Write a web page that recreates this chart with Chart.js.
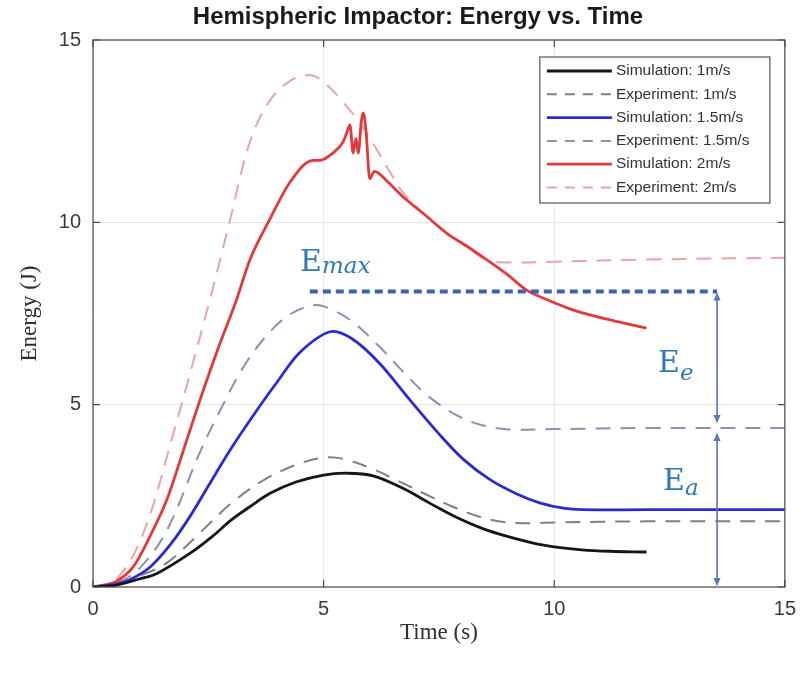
<!DOCTYPE html>
<html>
<head>
<meta charset="utf-8">
<title>Hemispheric Impactor: Energy vs. Time</title>
<script src="https://cdn.jsdelivr.net/npm/chart.js@4.4.1/dist/chart.umd.min.js"></script>
<style>
  html, body { margin: 0; padding: 0; background: #fff; }
  #wrap { width: 806px; height: 678px; }
</style>
</head>
<body>
<div id="wrap"><canvas id="energyChart" width="806" height="678"></canvas></div>
<script>
// Energy traces: time in s, energy in J
const sim1Time   = [0, 0.5, 1, 1.4, 2.1, 2.6, 3.0, 3.4, 3.84, 4.4, 5.0, 5.5, 6.07, 6.7, 7.3, 7.9, 8.45, 9.0, 9.5, 10.0, 10.6, 11.2, 11.9, 12];
const sim1Energy = [0, 0.05, 0.22, 0.38, 0.92, 1.4, 1.84, 2.2, 2.57, 2.88, 3.07, 3.12, 3.05, 2.72, 2.3, 1.9, 1.6, 1.38, 1.22, 1.1, 1.02, 0.98, 0.96, 0.96];

const exp1Time   = [0, 0.5, 1.0, 1.6, 2.38, 3.0, 3.7, 4.4, 5.0, 5.4, 6.0, 6.6, 7.2, 7.8, 8.4, 8.9, 9.5, 10, 12, 15];
const exp1Energy = [0, 0.08, 0.3, 0.66, 1.56, 2.3, 2.93, 3.35, 3.55, 3.52, 3.27, 2.92, 2.55, 2.2, 1.92, 1.78, 1.75, 1.77, 1.8, 1.8];

const sim15Time   = [0, 0.5, 0.8, 1.24, 1.7, 2.1, 2.5, 2.97, 3.5, 3.98, 4.5, 5.14, 5.6, 6.2, 6.87, 7.5, 8.03, 8.6, 9.19, 9.7, 10.2, 10.6, 12, 15];
const sim15Energy = [0, 0.08, 0.2, 0.55, 1.2, 1.93, 2.77, 3.75, 4.75, 5.6, 6.45, 7.0, 6.82, 6.15, 5.13, 4.2, 3.5, 2.95, 2.55, 2.3, 2.16, 2.12, 2.12, 2.12];

const exp15Time   = [0, 0.5, 1.0, 1.6, 2.32, 2.8, 3.26, 3.8, 4.3, 4.8, 5.1, 5.6, 6.2, 6.8, 7.3, 7.9, 8.4, 9.0, 10, 12, 15];
const exp15Energy = [0, 0.1, 0.5, 1.55, 3.7, 4.95, 6.03, 6.95, 7.5, 7.73, 7.65, 7.3, 6.6, 5.8, 5.2, 4.7, 4.45, 4.32, 4.33, 4.36, 4.36];

const sim2Time   = [0, 0.5, 0.87, 1.2, 1.6, 2.0, 2.32, 2.7, 3.11, 3.4, 3.84, 4.27, 4.77, 4.92, 5.2, 5.42, 5.5, 5.57, 5.64, 5.7, 5.75, 5.82, 5.86, 5.92, 6.0, 6.1, 6.4, 6.72, 7.2, 7.67, 8.1, 8.54, 9.0, 9.4, 9.9, 10.4, 10.9, 11.4, 12];
const sim2Energy = [0, 0.15, 0.55, 1.3, 2.39, 3.9, 5.13, 6.5, 7.87, 8.97, 10.1, 11.1, 11.7, 11.7, 11.9, 12.2, 12.45, 12.67, 11.9, 12.3, 11.9, 12.8, 13.0, 12.5, 11.2, 11.4, 11.1, 10.7, 10.2, 9.7, 9.35, 8.97, 8.55, 8.14, 7.85, 7.6, 7.42, 7.27, 7.1];

const exp2Time   = [0, 0.5, 1.09, 1.74, 2.2, 2.6, 2.97, 3.4, 3.84, 4.3, 4.7, 5.0, 5.42, 5.8, 6.15, 6.45, 6.7, 7.2, 7.67, 8.1, 8.54, 9.0, 10, 12, 15];
const exp2Energy = [0, 0.2, 1.47, 4.2, 6.3, 8.2, 10.06, 12.2, 13.35, 13.9, 14.04, 13.85, 13.3, 12.7, 12.0, 11.35, 10.85, 10.2, 9.72, 9.33, 8.97, 8.9, 8.92, 8.98, 9.03];

const seriesLabels = ['Simulation: 1m/s', 'Experiment: 1m/s', 'Simulation: 1.5m/s', 'Experiment: 1.5m/s', 'Simulation: 2m/s', 'Experiment: 2m/s'];
const seriesTimes = [sim1Time, exp1Time, sim15Time, exp15Time, sim2Time, exp2Time];
const seriesEnergies = [sim1Energy, exp1Energy, sim15Energy, exp15Energy, sim2Energy, exp2Energy];

const xTicks = [0, 5, 10, 15];
const yTicks = [0, 5, 10, 15];

// Energy balance markers
const emaxLevel = 8.1;
const emaxStart = 4.7;
const markerTime = 13.53;
const plateauLevel = 4.36;   // where E_e ends and E_a begins

// line styles per series
const seriesColors = ['#161616', '#808080', '#2b2bcc', '#8c90b4', '#e23a3c', '#e8a4a8'];
const seriesDash = [[], [15, 10], [], [15, 10], [], [15, 10]];
const seriesWidth = [2.8, 2, 2.8, 2, 2.8, 2];

const datasets = seriesLabels.map((label, i) => ({
  label,
  data: seriesTimes[i].map((t, k) => ({ x: t, y: seriesEnergies[i][k] })),
  borderColor: seriesColors[i],
  borderDash: seriesDash[i],
  borderWidth: seriesWidth[i],
  pointRadius: 0,
  fill: false,
  // the 2 m/s simulation is jagged around the peak, keep it from overshooting
  cubicInterpolationMode: i === 4 ? 'monotone' : 'default',
  tension: 0.35,
  order: seriesDash[i].length ? 2 : 1
}));

datasets.push({
  label: 'Emax',
  data: [{ x: emaxStart, y: emaxLevel }, { x: markerTime, y: emaxLevel }],
  borderColor: '#3f62b0',
  borderDash: [8, 5],
  borderWidth: 4,
  pointRadius: 0,
  fill: false,
  order: 0
});

function arrowHead(ctx, x, y, dir) {
  ctx.beginPath();
  ctx.moveTo(x, y);
  ctx.lineTo(x - 3.5, y - dir * 8);
  ctx.lineTo(x + 3.5, y - dir * 8);
  ctx.closePath();
  ctx.fill();
}

function subLabel(ctx, x, y, main, sub, subDrop) {
  ctx.font = '30px "DejaVu Serif"';
  ctx.fillText(main, x, y);
  const w = ctx.measureText(main).width;
  ctx.font = 'italic 23px "DejaVu Serif"';
  ctx.fillText(sub, x + w, y + subDrop);
}

const decorations = {
  id: 'decorations',
  afterDraw(chart) {
    const { ctx, chartArea: a, scales: { x, y } } = chart;
    ctx.save();

    // title over the axes
    ctx.fillStyle = '#1a1a1a';
    ctx.font = 'bold 24px "Liberation Sans"';
    ctx.textAlign = 'center';
    ctx.textBaseline = 'middle';
    ctx.fillText('Hemispheric Impactor: Energy vs. Time', 418, 17);

    // axes box and inner ticks
    ctx.strokeStyle = '#4a4a4a';
    ctx.lineWidth = 1.2;
    ctx.strokeRect(a.left, a.top, a.right - a.left, a.bottom - a.top);
    ctx.beginPath();
    xTicks.forEach(v => {
      const px = x.getPixelForValue(v);
      ctx.moveTo(px, a.bottom); ctx.lineTo(px, a.bottom - 7);
      ctx.moveTo(px, a.top); ctx.lineTo(px, a.top + 7);
    });
    yTicks.forEach(v => {
      const py = y.getPixelForValue(v);
      ctx.moveTo(a.left, py); ctx.lineTo(a.left + 7, py);
      ctx.moveTo(a.right, py); ctx.lineTo(a.right - 7, py);
    });
    ctx.stroke();

    // E_e and E_a arrows
    const ax = x.getPixelForValue(markerTime);
    const yTop = y.getPixelForValue(emaxLevel);
    const yMid = y.getPixelForValue(plateauLevel);
    const yBot = y.getPixelForValue(0);
    ctx.strokeStyle = '#5f74b6';
    ctx.fillStyle = '#5f74b6';
    ctx.lineWidth = 1.6;
    ctx.beginPath();
    ctx.moveTo(ax, yTop + 2); ctx.lineTo(ax, yMid - 6);
    ctx.moveTo(ax, yMid + 6); ctx.lineTo(ax, yBot - 2);
    ctx.stroke();
    arrowHead(ctx, ax, yTop + 1, -1);
    arrowHead(ctx, ax, yMid - 5, 1);
    arrowHead(ctx, ax, yMid + 5, -1);
    arrowHead(ctx, ax, yBot - 1, 1);

    // energy labels
    ctx.fillStyle = '#2f78b8';
    ctx.textAlign = 'left';
    ctx.textBaseline = 'alphabetic';
    subLabel(ctx, x.getPixelForValue(4.49), y.getPixelForValue(8.66), 'E', 'max', 2);
    subLabel(ctx, x.getPixelForValue(12.25), y.getPixelForValue(5.9), 'E', 'e', 8);
    subLabel(ctx, x.getPixelForValue(12.36), y.getPixelForValue(2.66), 'E', 'a', 5);

    // axis titles
    ctx.fillStyle = '#303030';
    ctx.font = '23px "Liberation Serif"';
    ctx.textAlign = 'center';
    ctx.textBaseline = 'middle';
    ctx.fillText('Time (s)', (a.left + a.right) / 2, 633);
    ctx.save();
    ctx.translate(30, (a.top + a.bottom) / 2);
    ctx.rotate(-Math.PI / 2);
    ctx.fillText('Energy (J)', 0, 0);
    ctx.restore();

    // legend box, top right inside the axes
    const bx = a.right - 245, by = a.top + 17, bw = 230, bh = 146;
    ctx.fillStyle = '#ffffff';
    ctx.fillRect(bx, by, bw, bh);
    ctx.strokeStyle = '#555';
    ctx.lineWidth = 1.2;
    ctx.strokeRect(bx, by, bw, bh);
    ctx.font = '15.5px "Liberation Sans"';
    ctx.textAlign = 'left';
    ctx.textBaseline = 'middle';
    seriesLabels.forEach((label, i) => {
      const ry = by + 14 + i * 23.3;
      ctx.strokeStyle = seriesColors[i];
      ctx.lineWidth = seriesWidth[i];
      ctx.setLineDash(seriesDash[i].length ? [10, 8] : []);
      ctx.beginPath();
      ctx.moveTo(bx + 7, ry);
      ctx.lineTo(bx + 72, ry);
      ctx.stroke();
      ctx.setLineDash([]);
      ctx.fillStyle = '#333';
      ctx.fillText(label, bx + 76, ry);
    });

    ctx.restore();
  }
};

new Chart(document.getElementById('energyChart'), {
  type: 'line',
  data: { datasets },
  options: {
    responsive: false,
    animation: false,
    layout: { padding: { left: 0, right: 21, top: 40, bottom: 0 } },
    plugins: {
      legend: { display: false },
      tooltip: { enabled: false },
      title: { display: false }
    },
    scales: {
      x: {
        type: 'linear',
        min: 0,
        max: 15,
        afterBuildTicks: s => { s.ticks = xTicks.map(v => ({ value: v })); },
        afterFit: s => { s.height = 91; },
        grid: { color: '#e8e8e8', drawTicks: false },
        border: { display: false },
        ticks: {
          padding: 10,
          color: '#3a3a3a',
          font: { family: '"Liberation Sans"', size: 20 }
        }
      },
      y: {
        type: 'linear',
        min: 0,
        max: 15,
        afterBuildTicks: s => { s.ticks = yTicks.map(v => ({ value: v })); },
        afterFit: s => { s.width = 93; },
        grid: { color: '#e8e8e8', drawTicks: false },
        border: { display: false },
        ticks: {
          padding: 12,
          color: '#3a3a3a',
          font: { family: '"Liberation Sans"', size: 20 }
        }
      }
    }
  },
  plugins: [decorations]
});
</script>
</body>
</html>
